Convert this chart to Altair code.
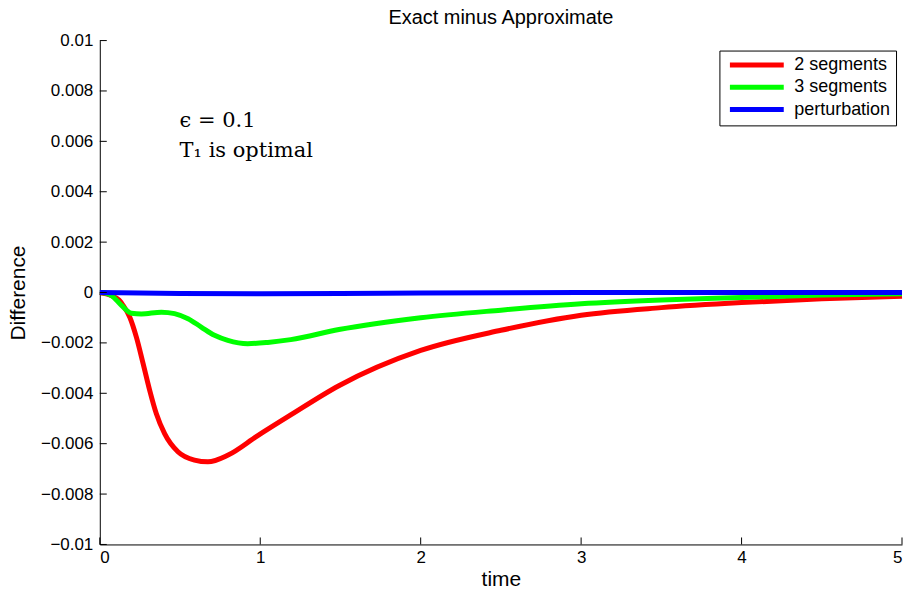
import altair as alt
import pandas as pd

red_t = [0, 0.07, 0.12, 0.145, 0.187, 0.228, 0.27, 0.311, 0.352, 0.404, 0.487, 0.59, 0.674, 0.8, 0.98,
         1.18, 1.49, 2, 2.5, 3, 3.5, 4, 4.5, 5]
red_v = [0, -0.00012, -0.0003, -0.00051, -0.00098, -0.00177, -0.00282, -0.00388, -0.0048, -0.0056,
         -0.00632, -0.00665, -0.00672, -0.00645, -0.0057, -0.0049, -0.0037, -0.0023, -0.0015, -0.0009,
         -0.0006, -0.0004, -0.00025, -0.00015]
green_t = [0, 0.04, 0.073, 0.135, 0.197, 0.259, 0.384, 0.466, 0.55, 0.632, 0.715, 0.798, 0.922, 1.047,
           1.19, 1.49, 2, 2.5, 3, 3.5, 4, 4.5, 5]
green_v = [0, -0.00003, -0.00012, -0.00051, -0.00082, -0.00085, -0.00078, -0.00084, -0.00104, -0.00137,
           -0.0017, -0.0019, -0.00203, -0.00198, -0.00187, -0.00147, -0.001, -0.0007, -0.00045, -0.0003,
           -0.0002, -0.0001, -0.00005]
blue_t = [0, 0.5, 1, 1.5, 2, 3, 4, 5]
blue_v = [0, -0.00004, -0.00005, -0.00004, -0.00002, 0, 0, 0]

series = ["2 segments", "3 segments", "perturbation"]
colors = ["#ff0000", "#00ff00", "#0000ff"]
x_ticks = [0, 1, 2, 3, 4, 5]
y_ticks = [-0.01, -0.008, -0.006, -0.004, -0.002, 0, 0.002, 0.004, 0.006, 0.008, 0.01]
notes = ["ϵ = 0.1", "T₁ is optimal"]
note_y = [0.0068, 0.0056]

rows = []
for name, ts, vs in zip(series, [red_t, green_t, blue_t], [red_v, green_v, blue_v]):
    for t, v in zip(ts, vs):
        rows.append({"time": t, "value": v, "series": name})
df = pd.DataFrame(rows)

FONT = "Liberation Sans"
W, H = 804, 505

xs = alt.Scale(domain=[0, 5], nice=False)
ys = alt.Scale(domain=[-0.01, 0.01], nice=False)

lines = alt.Chart(df).mark_line(strokeWidth=5, interpolate="monotone").encode(
    x=alt.X("time:Q", scale=xs, title="time",
            axis=alt.Axis(values=x_ticks, ticks=False, grid=False, domainColor="black",
                          labelFontSize=17, labelColor="black", labelPadding=5,
                          titleFontSize=21, titleFontWeight="normal", titleColor="black",
                          titlePadding=3, labelFont=FONT, titleFont=FONT, format="d")),
    y=alt.Y("value:Q", scale=ys, title="Difference",
            axis=alt.Axis(values=y_ticks, ticks=False, grid=False, domainColor="black",
                          labelFontSize=17, labelColor="black", labelPadding=7,
                          titleFontSize=21, titleFontWeight="normal", titleColor="black",
                          titlePadding=12, labelFont=FONT, titleFont=FONT, format="~g")),
    color=alt.Color("series:N", sort=series,
                    scale=alt.Scale(domain=series, range=colors),
                    legend=alt.Legend(title=None, orient="none", legendX=621, legendY=10,
                                      symbolType="M-4,0H4", symbolStrokeWidth=5, symbolSize=182,
                                      symbolOffset=23,
                                      labelFontSize=18, labelFont=FONT, labelColor="black",
                                      strokeColor="black", fillColor="white", padding=5,
                                      rowPadding=1.3, labelOffset=28)),
    order=alt.Order("time:Q"),
)

xt = alt.Chart(pd.DataFrame({"t": x_ticks})).mark_rule(color="black", strokeWidth=1).encode(
    x=alt.X("t:Q", scale=xs), y=alt.value(H), y2=alt.value(H - 7))
yt = alt.Chart(pd.DataFrame({"v": y_ticks})).mark_rule(color="black", strokeWidth=1).encode(
    y=alt.Y("v:Q", scale=ys), x=alt.value(0), x2=alt.value(7))

txt = alt.Chart(pd.DataFrame({"label": notes, "y": note_y})).mark_text(
    align="left", baseline="middle", font="DejaVu Serif", fontSize=21, color="black").encode(
    x=alt.value(80), y=alt.Y("y:Q", scale=ys), text="label:N")

chart = alt.layer(lines, xt, yt, txt).properties(
    width=W, height=H,
    title=alt.TitleParams("Exact minus Approximate", font=FONT, fontSize=20,
                          fontWeight="normal", color="black", offset=4, frame="group"),
    autosize=alt.AutoSizeParams(type="none"),
    padding={"left": 92, "top": 32, "right": 5, "bottom": 45},
).configure_view(stroke=None)

chart.save("out.html", embed_options={"renderer": "svg", "actions": False})
